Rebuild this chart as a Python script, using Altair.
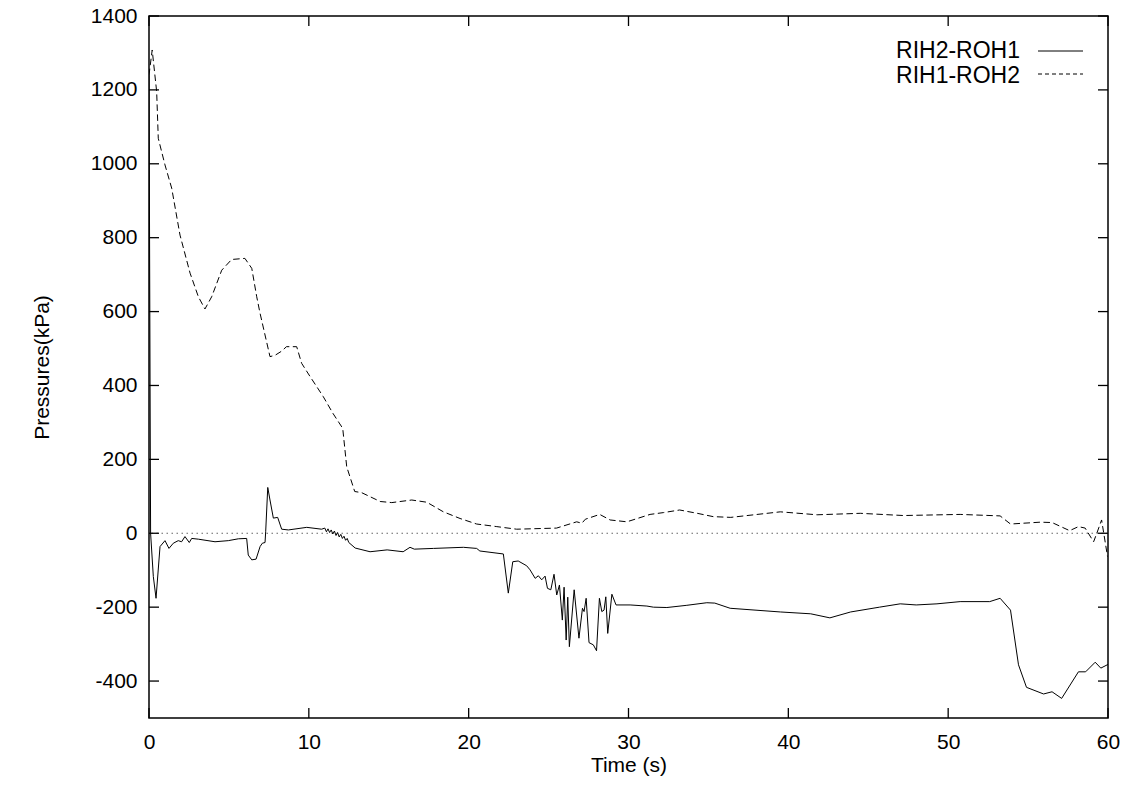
import altair as alt
import pandas as pd

# ---- data ----
t_solid = [0, 0.1, 0.27, 0.44, 0.69, 1.0, 1.25, 1.52, 1.83, 2.04, 2.25, 2.52, 2.67, 3.09,
           4.13, 4.96, 5.59, 6.11, 6.21, 6.43, 6.7, 6.95, 7.09, 7.26, 7.3, 7.43, 7.57, 7.78,
           8.05, 8.3, 8.72, 9.87, 10.8, 11.0, 11.1, 11.2, 11.3, 11.4, 11.5, 11.6, 11.7, 11.8,
           11.9, 12.0, 12.1, 12.2, 12.3, 12.4, 12.5, 12.9, 13.83, 14.9, 15.9, 16.33, 16.6,
           17.8, 19.67, 20.5, 20.7, 22.17, 22.48, 22.76, 23.1, 23.63, 23.84, 24.16, 24.36,
           24.57, 24.78, 24.93, 25.14, 25.34, 25.51, 25.68, 25.86, 25.97, 26.1, 26.2, 26.3,
           26.6, 26.9, 27.12, 27.22, 27.35, 27.53, 27.8, 28.0, 28.18, 28.33, 28.47, 28.58,
           28.7, 28.96, 29.22, 30.1, 31.15, 31.56, 32.4, 33.65, 34.9, 35.4, 36.36, 39.5,
           41.4, 42.6, 43.9, 45.7, 47.0, 48.0, 49.3, 50.75, 52.6, 53.25, 53.9, 54.4, 54.9,
           55.97, 56.5, 57.1, 58.15, 58.6, 59.2, 59.55, 60.0]
p_solid = [1240, 0, -117, -176, -36, -20, -41, -27, -20, -23, -9, -25, -14, -16,
           -23, -20, -15, -14, -59, -72, -70, -36, -27, -25, 4, 124, 90, 41,
           43, 11, 9, 16, 11, 14, 4, 12, 2, 9, -2, 6, -6, 2,
           -10, -3, -14, -8, -19, -14, -25, -40, -50, -45, -50, -38, -43,
           -41, -38, -41, -48, -56, -162, -77, -75, -88, -99, -122, -115,
           -126, -116, -149, -153, -111, -167, -140, -235, -146, -289, -173, -307,
           -153, -284, -203, -212, -176, -296, -302, -318, -176, -212, -208, -172,
           -271, -165, -194, -194, -197, -200, -201, -195, -188, -189, -203, -213,
           -218, -229, -213, -200, -191, -194, -191, -185, -185, -176, -208, -356, -417,
           -435, -429, -447, -375, -375, -349, -365, -355]

t_dash = [0, 0.2, 0.48, 0.58, 1.0, 1.42, 1.94, 2.57, 3.09, 3.5, 3.92, 4.55, 5.17, 6.0,
          6.43, 6.74, 6.95, 7.57, 7.9, 8.3, 8.6, 9.24, 9.55, 10.08, 10.9, 11.5, 12.12,
          12.37, 12.87, 13.3, 14.46, 15.19, 16.44, 17.38, 18.42, 19.46, 20.5, 21.76, 23.0,
          25.5, 26.76, 27.08, 27.3, 28.2, 28.85, 29.9, 31.35, 32.2, 33.2, 34.3, 35.3, 36.4,
          39.5, 41.8, 44.5, 47.2, 50.75, 53.25, 53.9, 55.76, 56.5, 57.6, 58.15, 58.57,
          59.1, 59.3, 59.6, 59.97]
p_dash = [1240, 1308, 1195, 1069, 997, 934, 807, 704, 640, 607, 640, 712, 741, 744,
          717, 640, 595, 478, 482, 493, 505, 505, 460, 424, 370, 325, 284,
          180, 113, 110, 86, 83, 90, 84, 58, 40, 25, 18, 11,
          14, 31, 27, 38, 51, 36, 31, 51, 56, 63, 54, 45, 43,
          58, 50, 54, 48, 51, 47, 25, 30, 29, 7, 18, 14,
          -23, 0, 36, -63]

series_names = ["RIH2-ROH1", "RIH1-ROH2"]
x_ticks = [0, 10, 20, 30, 40, 50, 60]
y_ticks = [-400, -200, 0, 200, 400, 600, 800, 1000, 1200, 1400]

W, H = 959, 702
FONT = "Liberation Sans"
FS = 21
LABEL_EXPR = "datum.value < 0 ? '-' + abs(datum.value) : '' + datum.value"

df_s = pd.DataFrame({"t": t_solid, "p": p_solid})
df_d = pd.DataFrame({"t": t_dash, "p": p_dash})
df_xt = pd.DataFrame({"v": x_ticks})
df_yt = pd.DataFrame({"v": y_ticks})

xscale = alt.Scale(domain=[0, 60], nice=False, zero=False)
yscale = alt.Scale(domain=[-500, 1400], nice=False, zero=False)

common = dict(tickSize=0, domain=False, grid=False, labelOverlap=False,
              labelExpr=LABEL_EXPR,
              labelFont=FONT, labelFontSize=FS, labelColor="black",
              titleFont=FONT, titleFontSize=FS, titleFontWeight="normal", titleColor="black")
xaxis = alt.Axis(values=x_ticks, title="Time (s)", labelPadding=13,
                 labelFlush=False, titleY=47, titleBaseline="middle", **common)
yaxis = alt.Axis(values=y_ticks, title="Pressures(kPa)", labelPadding=12,
                 titleX=-107, titleY=351, titleBaseline="middle", titleAlign="center",
                 titleAngle=270, **common)

solid = alt.Chart(df_s).mark_line(color="black", strokeWidth=1, clip=True).encode(
    x=alt.X("t:Q", scale=xscale, axis=xaxis),
    y=alt.Y("p:Q", scale=yscale, axis=yaxis),
)
dashed = alt.Chart(df_d).mark_line(color="black", strokeWidth=1, strokeDash=[6.5, 3.5],
                                   clip=True).encode(
    x=alt.X("t:Q", scale=xscale),
    y=alt.Y("p:Q", scale=yscale),
)
zero = alt.Chart(pd.DataFrame({"v": [0]})).mark_rule(
    color="#666666", strokeWidth=1, strokeDash=[1.5, 3.5]).encode(
    y=alt.Y("v:Q", scale=yscale))

tick_style = dict(color="black", strokeWidth=1.3)
xt_bottom = alt.Chart(df_xt).mark_rule(**tick_style).encode(
    x=alt.X("v:Q", scale=xscale), y=alt.value(H), y2=alt.value(H - 10))
xt_top = alt.Chart(df_xt).mark_rule(**tick_style).encode(
    x=alt.X("v:Q", scale=xscale), y=alt.value(0), y2=alt.value(10))
yt_left = alt.Chart(df_yt).mark_rule(**tick_style).encode(
    y=alt.Y("v:Q", scale=yscale), x=alt.value(0), x2=alt.value(10))
yt_right = alt.Chart(df_yt).mark_rule(**tick_style).encode(
    y=alt.Y("v:Q", scale=yscale), x=alt.value(W - 10), x2=alt.value(W))

# legend (inside top right)
leg_layers = []
for i, (name, dash) in enumerate(zip(series_names, [None, [4, 3]])):
    ty = 35 + i * 25
    ly = 35 + i * 23
    leg_layers.append(
        alt.Chart(pd.DataFrame({"name": [name]})).mark_text(
            align="right", baseline="middle", font=FONT, fontSize=23, color="black"
        ).encode(text="name:N", x=alt.value(871), y=alt.value(ty))
    )
    kw = dict(color="black", strokeWidth=1)
    if dash:
        kw["strokeDash"] = dash
    leg_layers.append(
        alt.Chart(pd.DataFrame({"name": [name]})).mark_rule(**kw).encode(
            x=alt.value(889), x2=alt.value(934), y=alt.value(ly))
    )

chart = alt.layer(zero, dashed, solid, xt_bottom, xt_top, yt_left, yt_right, *leg_layers).properties(
    width=W, height=H,
    autosize=alt.AutoSizeParams(type="none"),
    padding={"left": 149, "top": 16, "right": 18, "bottom": 67},
).configure_view(stroke="black", strokeWidth=1.5)

chart.save("out.html", embed_options={"renderer": "svg", "actions": False})
